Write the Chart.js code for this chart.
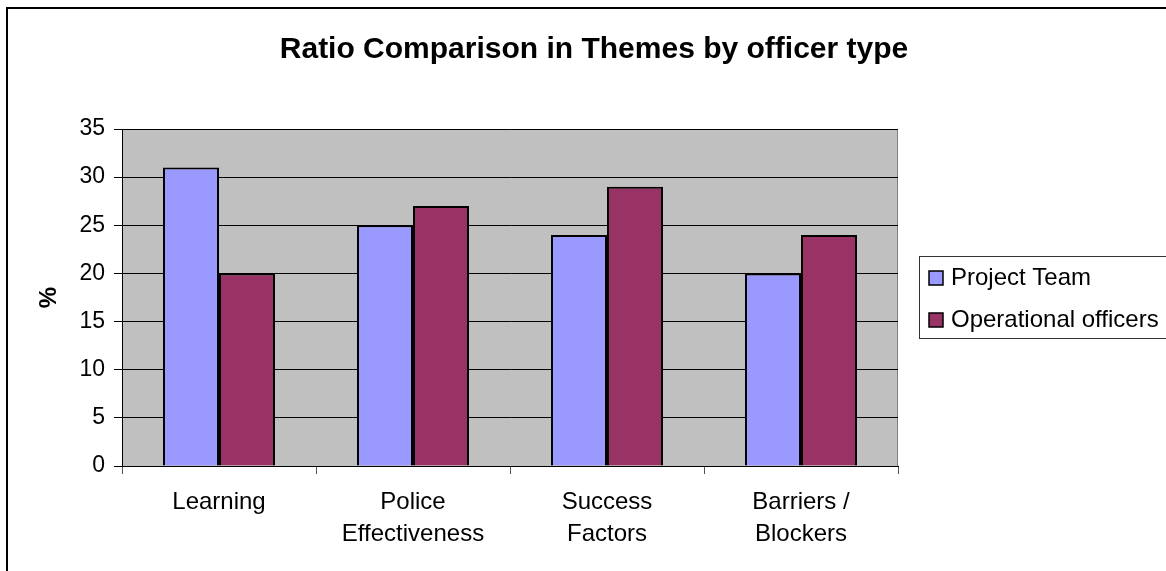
<!doctype html>
<html>

<head>
    <title>Ratio Comparison in Themes by officer type</title>
    <script src="https://cdn.jsdelivr.net/npm/chart.js@4.4.1/dist/chart.umd.min.js"></script>
    <style>
    html, body {
        margin: 0;
        padding: 0;
        background: #ffffff;
    }
    #container {
        width: 1166px;
        height: 571px;
    }
    </style>
</head>

<body>
    <div id="container">
        <canvas id="canvas"></canvas>
    </div>
    <script>
        var THEMES = [["Learning"], ["Police", "Effectiveness"], ["Success", "Factors"], ["Barriers /", "Blockers"]];
        var PROJECT_TEAM = [31, 25, 24, 20];
        var OPERATIONAL = [20, 27, 29, 24];
        var SERIES_NAMES = ["Project Team", "Operational officers"];
        var Y_MIN = 0, Y_MAX = 35, Y_STEP = 5;

        var FONT = "'Liberation Sans', Arial, sans-serif";

        // grey plot area, outer frame, title and boxed legend
        var excelLook = {
            id: 'excelLook',
            beforeDraw: function(chart) {
                var c = chart.ctx, a = chart.chartArea;
                c.save();
                c.fillStyle = '#ffffff';
                c.fillRect(0, 0, chart.width, chart.height);
                c.fillStyle = '#c0c0c0';
                c.fillRect(a.left, a.top, a.right - a.left, a.bottom - a.top);
                c.strokeStyle = '#808080';
                c.lineWidth = 1;
                c.beginPath();
                c.moveTo(a.left, a.top + 0.5);
                c.lineTo(a.right - 0.5, a.top + 0.5);
                c.lineTo(a.right - 0.5, a.bottom);
                c.stroke();
                c.restore();
            },
            afterDraw: function(chart) {
                var c = chart.ctx;
                c.save();
                // outer frame
                c.strokeStyle = '#000000';
                c.lineWidth = 2;
                c.strokeRect(7, 8, chart.width, chart.height);
                // title
                c.fillStyle = '#000000';
                c.font = 'bold 30px ' + FONT;
                c.textAlign = 'center';
                c.textBaseline = 'middle';
                c.fillText('Ratio Comparison in Themes by officer type', 594, 50);
                // legend
                c.strokeStyle = '#333333';
                c.lineWidth = 1;
                c.strokeRect(919.5, 256.5, 260, 82);
                c.font = '24px ' + FONT;
                c.textAlign = 'left';
                chart.data.datasets.forEach(function(ds, i) {
                    var y = 278 + i * 42;
                    c.fillStyle = ds.backgroundColor;
                    c.fillRect(929, y - 7, 14, 14);
                    c.strokeStyle = '#000000';
                    c.lineWidth = 1.5;
                    c.strokeRect(929, y - 7, 14, 14);
                    c.fillStyle = '#000000';
                    c.fillText(ds.label, 951, y);
                });
                c.restore();
            }
        };

        window.onload = function() {
            var ctx = document.getElementById("canvas").getContext("2d");
            window.myBar = new Chart(ctx, {
                type: 'bar',
                data: {
                    labels: THEMES,
                    datasets: [{
                        label: SERIES_NAMES[0],
                        data: PROJECT_TEAM,
                        backgroundColor: '#9999ff',
                        borderColor: '#000000',
                        borderWidth: 2
                    }, {
                        label: SERIES_NAMES[1],
                        data: OPERATIONAL,
                        backgroundColor: '#993366',
                        borderColor: '#000000',
                        borderWidth: 2
                    }]
                },
                options: {
                    responsive: true,
                    maintainAspectRatio: false,
                    animation: false,
                    layout: {
                        padding: { top: 129, left: 0, right: 268, bottom: 0 }
                    },
                    datasets: {
                        bar: {
                            categoryPercentage: 112 / 194,
                            barPercentage: 1.0
                        }
                    },
                    plugins: {
                        legend: { display: false },
                        title: { display: false },
                        tooltip: { enabled: false }
                    },
                    scales: {
                        x: {
                            afterFit: function(scale) { scale.height = 105; },
                            grid: {
                                offset: true,
                                drawOnChartArea: false,
                                drawTicks: true,
                                tickLength: 8,
                                tickColor: '#555555'
                            },
                            border: { color: '#000000', width: 1 },
                            ticks: {
                                color: '#000000',
                                padding: 12,
                                maxRotation: 0,
                                autoSkip: false,
                                font: { family: FONT, size: 24, lineHeight: 1.333 }
                            }
                        },
                        y: {
                            min: Y_MIN,
                            max: Y_MAX,
                            afterFit: function(scale) { scale.width = 122; },
                            grid: {
                                color: '#000000',
                                lineWidth: 1,
                                drawTicks: true,
                                tickLength: 8,
                                tickColor: '#000000'
                            },
                            border: { color: '#000000', width: 1 },
                            ticks: {
                                stepSize: Y_STEP,
                                color: '#000000',
                                padding: 9,
                                font: { family: FONT, size: 23 }
                            },
                            title: {
                                display: true,
                                text: '%',
                                color: '#000000',
                                padding: { top: 35, bottom: 0 },
                                font: { family: FONT, size: 24, weight: 'bold', lineHeight: 1.2 }
                            }
                        }
                    }
                },
                plugins: [excelLook]
            });
        };
    </script>
</body>

</html>
